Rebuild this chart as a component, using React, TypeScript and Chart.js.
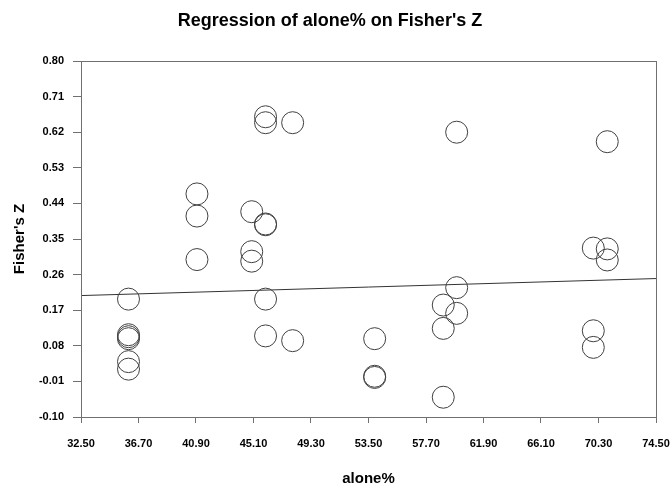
import React, { useEffect, useRef } from "react";
import { Chart, registerables } from "chart.js";

Chart.register(...registerables);

const alone = [
  35.97, 35.97, 35.97, 35.97, 35.97, 35.97,
  40.97, 40.97, 40.97,
  44.97, 44.97, 44.97,
  45.98, 45.98, 45.98, 45.98, 45.98, 45.98,
  47.96, 47.96,
  53.95, 53.95, 53.95,
  58.96, 58.96, 58.96,
  59.94, 59.94, 59.94,
  69.92, 69.92, 69.92,
  70.94, 70.94, 70.94,
];
const fisherZ = [
  0.198, 0.108, 0.103, 0.098, 0.04, 0.021,
  0.464, 0.408, 0.298,
  0.419, 0.318, 0.294,
  0.659, 0.644, 0.388, 0.386, 0.198, 0.105,
  0.644, 0.093,
  0.098, 0.003, 0.0,
  0.183, 0.124, -0.05,
  0.62, 0.227, 0.162,
  0.327, 0.118, 0.076,
  0.596, 0.325, 0.297,
];
const fitX = [32.5, 74.5];
const fitY = [0.207, 0.25];
const xTicks = [32.5, 36.7, 40.9, 45.1, 49.3, 53.5, 57.7, 61.9, 66.1, 70.3, 74.5];
const yTicks = [-0.1, -0.01, 0.08, 0.17, 0.26, 0.35, 0.44, 0.53, 0.62, 0.71, 0.8];
const TITLE = "Regression of alone% on Fisher's Z";
const X_TITLE = "alone%";
const Y_TITLE = "Fisher's Z";

const FAMILY = '"Liberation Sans", Arial, Helvetica, sans-serif';
const AXIS = "#707070";

export default function App() {
  const ref = useRef<HTMLCanvasElement>(null);

  useEffect(() => {
    const canvas = ref.current;
    if (!canvas) return;

    const titlePlugin = {
      id: "customTitle",
      afterDraw(chart: any) {
        const ctx = chart.ctx;
        ctx.save();
        ctx.font = `bold 18px ${FAMILY}`;
        ctx.fillStyle = "#000";
        ctx.textAlign = "center";
        ctx.textBaseline = "middle";
        ctx.fillText(TITLE, 330, 21.4);
        ctx.restore();
      },
    };

    const framePlugin = {
      id: "frame",
      afterDraw(chart: any) {
        const { left, right, top, bottom } = chart.chartArea;
        const ctx = chart.ctx;
        ctx.save();
        ctx.strokeStyle = AXIS;
        ctx.lineWidth = 1;
        const l = Math.round(left) + 0.5;
        const r = Math.round(right) + 0.5;
        const t = Math.round(top) + 0.5;
        const b = Math.round(bottom) + 0.5;
        ctx.strokeRect(l, t, r - l, b - t);
        ctx.restore();
      },
    };

    const chart = new Chart(canvas, {
      type: "scatter",
      data: {
        datasets: [
          {
            type: "scatter",
            data: alone.map((x, i) => ({ x, y: fisherZ[i] })),
            pointRadius: 11,
            pointHoverRadius: 11,
            pointBorderWidth: 1,
            borderColor: "#404040",
            backgroundColor: "rgba(0,0,0,0)",
          } as any,
          {
            type: "line",
            data: fitX.map((x, i) => ({ x, y: fitY[i] })),
            borderColor: "#333333",
            borderWidth: 1,
            pointRadius: 0,
            fill: false,
            tension: 0,
          } as any,
        ],
      },
      options: {
        animation: false,
        responsive: false,
        devicePixelRatio: 1,
        layout: { padding: { top: 61, right: 14, bottom: 0, left: 0 } },
        plugins: {
          legend: { display: false },
          tooltip: { enabled: false },
          title: { display: false },
        },
        scales: {
          x: {
            type: "linear",
            min: 32.5,
            max: 74.5,
            afterBuildTicks: (s: any) => {
              s.ticks = xTicks.map((v) => ({ value: v }));
            },
            afterFit: (s: any) => {
              s.height = 69;
              s.paddingLeft = 0;
              s.paddingRight = 0;
            },
            ticks: {
              callback: (v: any) => Number(v).toFixed(2),
              font: { family: FAMILY, size: 11, weight: "bold" },
              color: "#000",
              padding: 14,
              maxRotation: 0,
              autoSkip: false,
            },
            grid: { drawOnChartArea: false, tickLength: 6, color: AXIS },
            border: { color: AXIS },
            title: {
              display: true,
              text: X_TITLE,
              font: { family: FAMILY, size: 15, weight: "bold" },
              color: "#000",
              padding: { top: 0, bottom: -2 },
            },
          },
          y: {
            type: "linear",
            min: -0.1,
            max: 0.8,
            afterBuildTicks: (s: any) => {
              s.ticks = yTicks.map((v) => ({ value: v }));
            },
            afterFit: (s: any) => {
              s.width = 81;
            },
            ticks: {
              callback: (v: any) => Number(v).toFixed(2),
              font: { family: FAMILY, size: 11, weight: "bold" },
              color: "#000",
              padding: 9,
              autoSkip: false,
            },
            grid: { drawOnChartArea: false, tickLength: 8, color: AXIS },
            border: { color: AXIS },
            title: {
              display: true,
              text: Y_TITLE,
              font: { family: FAMILY, size: 15, weight: "bold" },
              color: "#000",
              padding: { top: 11, bottom: 0 },
            },
          },
        },
      } as any,
      plugins: [titlePlugin, framePlugin],
    });

    return () => chart.destroy();
  }, []);

  return (
    <div
      style={{
        position: "absolute",
        left: 0,
        top: 0,
        width: 670,
        height: 486,
        background: "#fff",
      }}
    >
      <canvas ref={ref} width={670} height={486} style={{ width: 670, height: 486, display: "block" }} />
    </div>
  );
}
